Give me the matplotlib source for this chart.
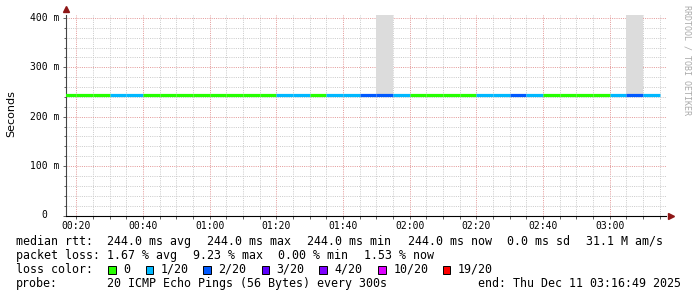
import matplotlib
matplotlib.use("Agg")
import matplotlib.pyplot as plt
import matplotlib.dates as mdates
from matplotlib.patches import Rectangle
from matplotlib.ticker import MultipleLocator
import pandas as pd

# graph window (smokeping, last 3 hours)
t_start = pd.Timestamp("2025-12-11 00:16:49")
t_end = pd.Timestamp("2025-12-11 03:16:49")

# one value per 5 min step, first step starts 00:15
loss = [0, 0, 0, 1, 1, 0, 0, 0, 0, 0, 0, 0, 0, 1, 1, 0, 1, 1,
        2, 2, 1, 0, 0, 0, 0, 1, 1, 2, 1, 0, 0, 0, 0, 1, 2, 1]
median_rtt = [0.244, 0.244, 0.244, 0.244, 0.244, 0.244, 0.244, 0.244, 0.244,
              0.244, 0.244, 0.244, 0.244, 0.244, 0.244, 0.244, 0.244, 0.244,
              0.244, 0.244, 0.244, 0.244, 0.244, 0.244, 0.244, 0.244, 0.244,
              0.244, 0.244, 0.244, 0.244, 0.244, 0.244, 0.244, 0.244, 0.244]
steps = pd.date_range("2025-12-11 00:15", periods=len(loss), freq="5min")

# smoke (ping spread) only visible in two steps, goes off the top
smoke_steps = [pd.Timestamp("2025-12-11 01:50"), pd.Timestamp("2025-12-11 03:05")]
smoke_low = [0.244, 0.244]
smoke_high = [0.5, 0.5]

# loss colour legend
loss_levels = [0, 1, 2, 3, 4, 10, 19]
loss_labels = ["0", "1/20", "2/20", "3/20", "4/20", "10/20", "19/20"]
loss_colors = ["#26ff00", "#00b8ff", "#0059ff", "#5e00ff", "#7e00ff", "#dd00ff", "#ff0000"]

yticks = [0, 0.1, 0.2, 0.3, 0.4]
ytick_labels = ["0", "100 m", "200 m", "300 m", "400 m"]

rtt_line = ["median rtt:", "244.0 ms avg", "244.0 ms max", "244.0 ms min",
            "244.0 ms now", "0.0 ms sd", "31.1 M am/s"]
loss_line = ["packet loss:", "1.67 % avg", "9.23 % max", "0.00 % min", "1.53 % now"]
probe_text = "20 ICMP Echo Pings (56 Bytes) every 300s"
end_text = "end: Thu Dec 11 03:16:49 2025"


def color_for(n):
    c = loss_colors[0]
    for lvl, col in zip(loss_levels, loss_colors):
        if n >= lvl:
            c = col
    return c


W, H = 697, 297
MONO = "DejaVu Sans Mono"
fig = plt.figure(figsize=(W / 100, H / 100), dpi=100)
fig.patch.set_facecolor("white")
ax = fig.add_axes([65.7 / W, (H - 215.5) / H, 600 / W, 200.5 / H])

step = pd.Timedelta(minutes=5)
# smoke
for t, lo, hi in zip(smoke_steps, smoke_low, smoke_high):
    ax.bar(t, hi - lo, bottom=lo, width=step, align="edge",
           color="#dcdcdc", linewidth=0, zorder=2)

# median line coloured by loss
for t, v, n in zip(steps, median_rtt, loss):
    ax.hlines(v, t, t + step, colors=color_for(n), linewidth=2.3, zorder=3)

ax.set_xlim(t_start, t_end)
ax.set_ylim(0, 0.406)

ax.xaxis.set_major_locator(mdates.MinuteLocator(byminute=[0, 20, 40]))
ax.xaxis.set_minor_locator(mdates.MinuteLocator(byminute=range(0, 60, 5)))
ax.xaxis.set_major_formatter(mdates.DateFormatter("%H:%M"))
ax.yaxis.set_major_locator(MultipleLocator(0.1))
ax.yaxis.set_minor_locator(MultipleLocator(0.02))

ax.grid(which="minor", color="#cccccc", linestyle=(0, (1, 1.2)), linewidth=0.72, zorder=0)
ax.grid(which="major", color="#e49c9c", linestyle=(0, (1, 1.2)), linewidth=0.72, zorder=1)
ax.set_axisbelow(True)

for s in ["top", "right"]:
    ax.spines[s].set_visible(False)
ax.spines["left"].set_color("#444444")
ax.spines["bottom"].set_color("black")
ax.spines["left"].set_linewidth(0.8)
ax.spines["bottom"].set_linewidth(0.8)

ax.tick_params(axis="x", which="both", length=2, width=0.6, color="#444444",
               pad=2.0, labelsize=7)
ax.tick_params(axis="y", which="major", length=2.2, width=0.6, color="#444444",
               labelleft=False)
ax.tick_params(axis="y", which="minor", length=1.4, width=0.6, color="#444444")
for lab in ax.get_xticklabels():
    lab.set_fontfamily(MONO)

# y labels, rrdtool style ("  0" lines up under the digits)
ytrans = ax.get_yaxis_transform()
for v, s in zip(yticks, ytick_labels):
    x0 = 30 if s != "0" else 41.7
    ax.text((x0 - 65.7) / 600, v, s, transform=ytrans, ha="left", va="center",
            fontsize=7, family=MONO)

# arrows
ax.plot([1.009], [0], marker=">", markersize=4.3, color="#8e1616",
        transform=ax.transAxes, clip_on=False)
ax.plot([0], [1.03], marker="^", markersize=4.3, color="#8e1616",
        transform=ax.transAxes, clip_on=False)


def ftext(x, y, s, **kw):
    fig.text(x / W, 1 - y / H, s, **kw)


fig.text(11.5 / W, 1 - 113.5 / H, "Seconds", rotation=90, ha="center", va="center",
         fontsize=8, family="DejaVu Sans")
ftext(687.5, 5, "RRDTOOL / TOBI OETIKER", rotation=270, ha="center", va="top",
      fontsize=6, family=MONO, color="#aaaaaa")

kw = dict(fontsize=8.4, family=MONO, va="baseline", ha="left")
for x, s in zip([16, 107.3, 207.3, 307.3, 408.3, 507.3, 586], rtt_line):
    ftext(x, 245, s, **kw)
for x, s in zip([16, 107.3, 193.3, 278.3, 364.5], loss_line):
    ftext(x, 259, s, **kw)
ftext(16, 273, "loss color:", **kw)
sq_x = [108.3, 146, 203.3, 261.7, 319.3, 378.3, 442.7]
for x, s, c in zip(sq_x, loss_labels, loss_colors):
    fig.add_artist(Rectangle((x / W, 1 - 273.5 / H), 7.2 / W, 7.2 / H,
                             transform=fig.transFigure, facecolor=c,
                             edgecolor="black", linewidth=0.7))
    ftext(x + 15, 273, s, **kw)
ftext(16, 287, "probe:", **kw)
ftext(107.3, 287, probe_text, **kw)
ftext(478.3, 287, end_text, **kw)

fig.savefig("out.png", dpi=100, facecolor="white")
